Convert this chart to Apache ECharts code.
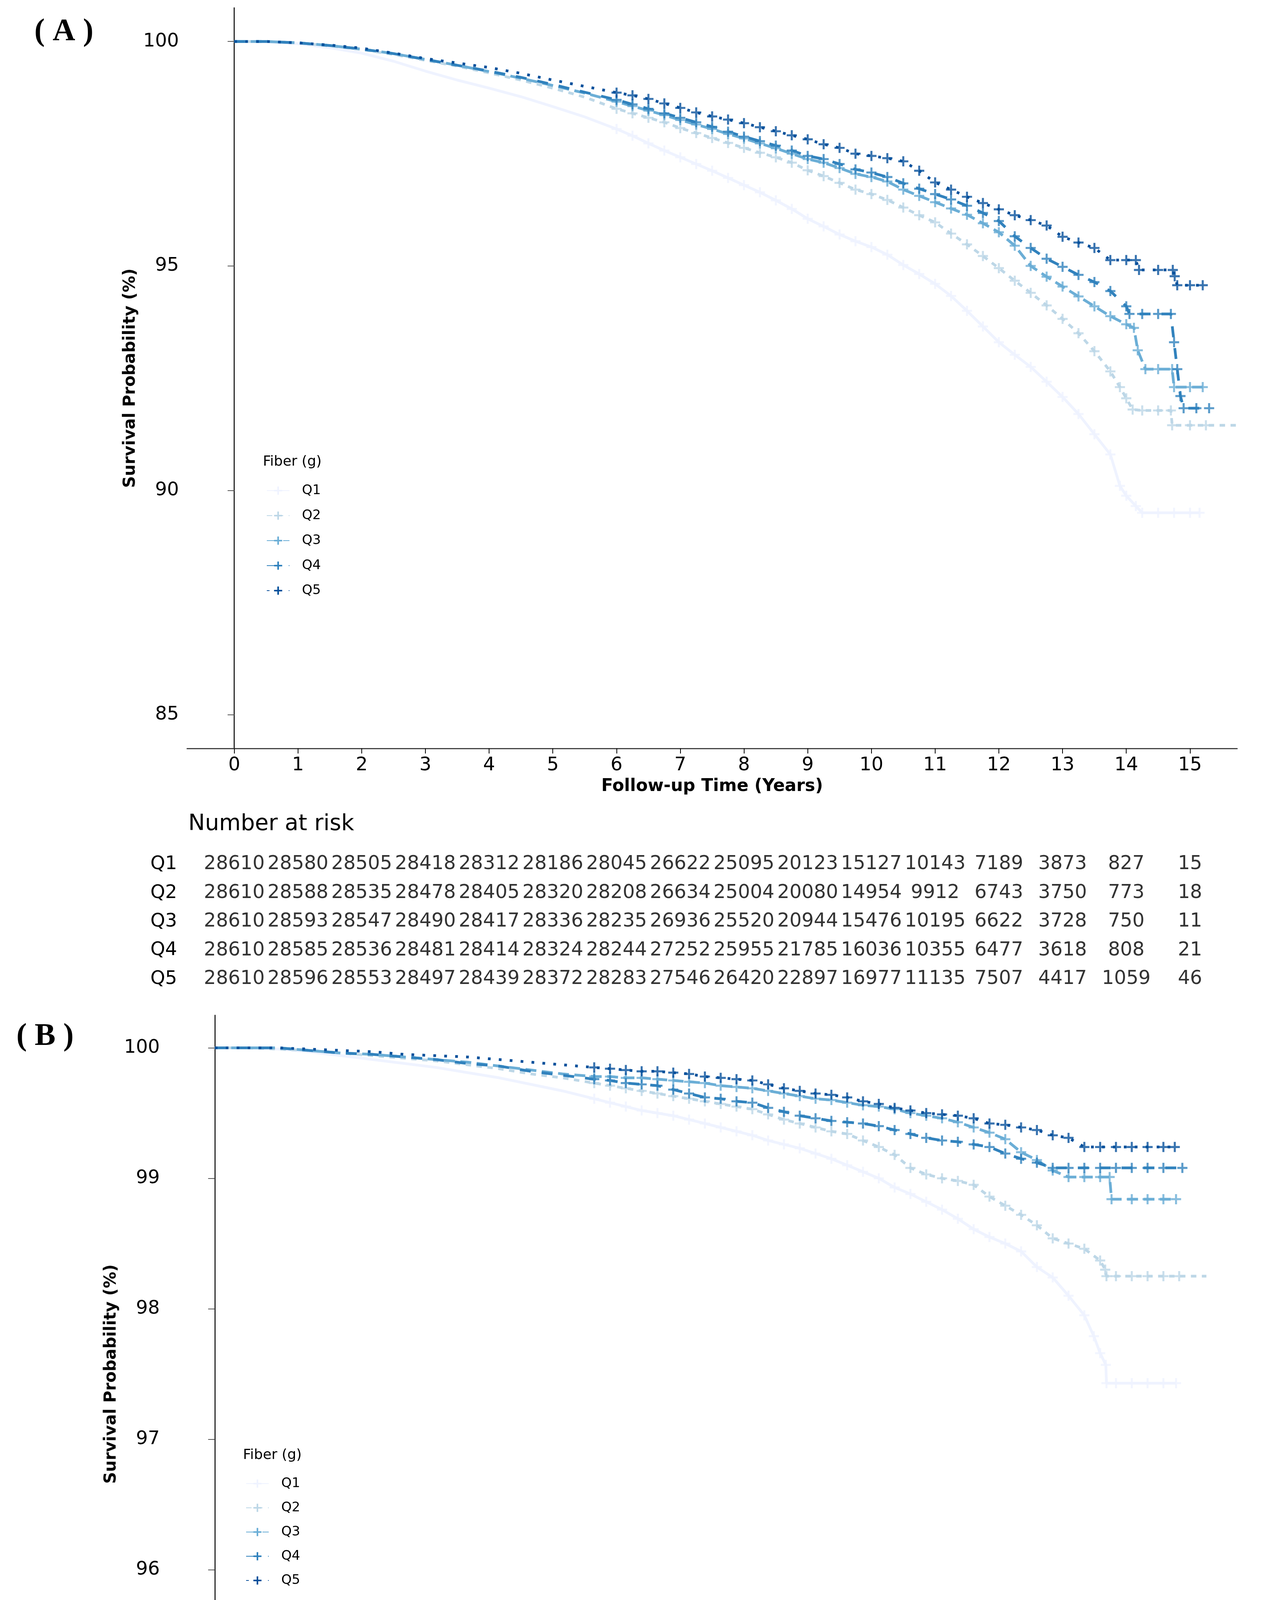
<!DOCTYPE html>
<html><head><meta charset="utf-8">
<script src="https://cdn.jsdelivr.net/npm/echarts@6/dist/echarts.min.js"></script>
<style>html,body{margin:0;padding:0;background:#fff}#c{width:3246px;height:5105px}</style>
</head><body><div id="c"></div><script>
// ---------- data ----------
const GROUPS = ['Q1','Q2','Q3','Q4','Q5'];
const X_TICKS = [0,1,2,3,4,5,6,7,8,9,10,11,12,13,14,15];
const Y_TICKS_A = [85,90,95,100];
const Y_TICKS_B = [95,96,97,98,99,100];
const RISK_TIMES = [0,1,2,3,4,5,6,7,8,9,10,11,12,13,14,15];

const T_BODY = [0,0.5,1,1.5,2,2.5,3,3.5,4,4.5,5,5.5,6,6.25,6.5,6.75,7,7.25,7.5,7.75,8,8.25,8.5,8.75,9,9.25,9.5,9.75,10,10.25,10.5,10.75,11,11.25,11.5,11.75,12,12.25,12.5,12.75,13,13.25,13.5,13.75];

// Panel A survival (%)
const A_Q1 = [100,99.99,99.95,99.86,99.74,99.56,99.34,99.14,98.96,98.77,98.55,98.32,98.05,97.9,97.73,97.57,97.42,97.27,97.12,96.96,96.8,96.64,96.46,96.27,96.05,95.88,95.7,95.55,95.42,95.25,95.02,94.82,94.6,94.33,94.0,93.65,93.3,93.02,92.75,92.42,92.08,91.7,91.25,90.8];
const A_Q1_TT = [13.9,14,14.15,14.25,14.5,14.75,15,15.15];
const A_Q1_TS = [90.1,89.88,89.65,89.5,89.5,89.5,89.5,89.5];
const A_Q2 = [100,100,99.97,99.9,99.82,99.71,99.58,99.45,99.3,99.14,98.96,98.76,98.5,98.4,98.3,98.2,98.07,97.96,97.85,97.74,97.63,97.52,97.42,97.3,97.13,97.0,96.85,96.7,96.6,96.47,96.3,96.13,95.97,95.72,95.48,95.22,94.95,94.67,94.4,94.12,93.82,93.5,93.1,92.65];
const A_Q2_TT = [13.9,14,14.1,14.25,14.5,14.7,14.72,15,15.25,15.72];
const A_Q2_TS = [92.3,92.05,91.8,91.78,91.78,91.78,91.45,91.45,91.45,91.45];
const A_Q3 = [100,100,99.97,99.91,99.83,99.73,99.6,99.47,99.33,99.18,99.02,98.85,98.66,98.56,98.46,98.36,98.25,98.15,98.05,97.94,97.84,97.73,97.62,97.5,97.38,97.3,97.18,97.05,96.98,96.88,96.7,96.56,96.42,96.28,96.14,95.95,95.75,95.45,95.0,94.76,94.54,94.32,94.1,93.88];
const A_Q3_TT = [14,14.12,14.18,14.3,14.5,14.72,14.75,15,15.2];
const A_Q3_TS = [93.7,93.62,93.12,92.7,92.7,92.7,92.3,92.3,92.3];
const A_Q4 = [100,100,99.97,99.91,99.83,99.73,99.6,99.47,99.34,99.2,99.04,98.87,98.7,98.6,98.5,98.4,98.3,98.2,98.1,97.99,97.88,97.78,97.68,97.57,97.45,97.38,97.27,97.15,97.08,96.98,96.84,96.72,96.6,96.48,96.34,96.18,96.0,95.66,95.4,95.16,94.98,94.8,94.64,94.44];
const A_Q4_TT = [14,14.05,14.25,14.5,14.7,14.75,14.8,14.85,14.9,15.1,15.3];
const A_Q4_TS = [94.1,93.93,93.93,93.93,93.93,93.3,92.7,92.1,91.83,91.83,91.83];
const A_Q5 = [100,100,99.97,99.92,99.85,99.74,99.62,99.52,99.42,99.29,99.14,99.0,98.86,98.8,98.72,98.62,98.52,98.42,98.33,98.26,98.18,98.09,98.0,97.91,97.82,97.71,97.63,97.5,97.45,97.4,97.33,97.12,96.86,96.7,96.54,96.4,96.26,96.13,96.02,95.9,95.65,95.52,95.4,95.13];
const A_Q5_TT = [14,14.15,14.2,14.5,14.73,14.76,14.8,15,15.2];
const A_Q5_TS = [95.13,95.13,94.91,94.91,94.91,94.77,94.57,94.57,94.57];

// Panel B survival (%)
const B_Q1 = [100,100,99.99,99.97,99.94,99.91,99.88,99.85,99.81,99.77,99.72,99.67,99.61,99.58,99.55,99.52,99.5,99.48,99.45,99.42,99.39,99.36,99.33,99.29,99.26,99.23,99.19,99.15,99.1,99.05,99.0,98.93,98.88,98.82,98.76,98.69,98.61,98.55,98.5,98.44,98.32,98.24,98.1,97.95];
const B_Q1_TT = [13.9,14,14.09,14.1,14.25,14.5,14.75,15,15.2];
const B_Q1_TS = [97.79,97.66,97.57,97.43,97.43,97.43,97.43,97.43,97.43];
const B_Q2 = [100,100,99.99,99.98,99.96,99.94,99.92,99.9,99.87,99.84,99.8,99.77,99.73,99.71,99.69,99.67,99.65,99.63,99.61,99.59,99.57,99.55,99.53,99.49,99.45,99.42,99.39,99.36,99.34,99.29,99.24,99.18,99.08,99.03,99.0,98.98,98.95,98.86,98.79,98.72,98.64,98.54,98.5,98.46];
const B_Q2_TT = [14,14.08,14.1,14.25,14.5,14.75,15,15.25,15.68];
const B_Q2_TS = [98.37,98.3,98.25,98.25,98.25,98.25,98.25,98.25,98.25];
const B_Q3 = [100,100,100,99.98,99.96,99.95,99.93,99.91,99.89,99.86,99.83,99.8,99.78,99.78,99.77,99.77,99.76,99.75,99.74,99.73,99.71,99.7,99.69,99.67,99.65,99.63,99.61,99.6,99.58,99.56,99.55,99.53,99.5,99.48,99.46,99.43,99.39,99.35,99.3,99.2,99.14,99.06,99.01,99.01];
const B_Q3_TT = [14,14.15,14.18,14.5,14.75,15,15.2];
const B_Q3_TS = [99.01,99.01,98.84,98.84,98.84,98.84,98.84];
const B_Q4 = [100,100,100,99.98,99.96,99.95,99.93,99.91,99.88,99.86,99.82,99.79,99.76,99.75,99.73,99.72,99.71,99.68,99.65,99.62,99.61,99.59,99.58,99.54,99.51,99.48,99.46,99.44,99.43,99.42,99.4,99.37,99.34,99.31,99.29,99.28,99.26,99.24,99.19,99.15,99.12,99.08,99.08,99.08];
const B_Q4_TT = [14,14.25,14.5,14.75,15,15.3];
const B_Q4_TS = [99.08,99.08,99.08,99.08,99.08,99.08];
const B_Q5 = [100,100,100,99.99,99.98,99.97,99.95,99.94,99.93,99.91,99.89,99.87,99.85,99.84,99.83,99.82,99.82,99.81,99.8,99.78,99.77,99.76,99.75,99.72,99.69,99.67,99.65,99.64,99.62,99.59,99.57,99.54,99.52,99.5,99.49,99.48,99.46,99.42,99.41,99.39,99.37,99.33,99.31,99.24];
const B_Q5_TT = [14,14.25,14.5,14.75,15,15.18];
const B_Q5_TS = [99.24,99.24,99.24,99.24,99.24,99.24];

// Number at risk
const RISK_A_Q1 = [28610,28580,28505,28418,28312,28186,28045,26622,25095,20123,15127,10143,7189,3873,827,15];
const RISK_A_Q2 = [28610,28588,28535,28478,28405,28320,28208,26634,25004,20080,14954,9912,6743,3750,773,18];
const RISK_A_Q3 = [28610,28593,28547,28490,28417,28336,28235,26936,25520,20944,15476,10195,6622,3728,750,11];
const RISK_A_Q4 = [28610,28585,28536,28481,28414,28324,28244,27252,25955,21785,16036,10355,6477,3618,808,21];
const RISK_A_Q5 = [28610,28596,28553,28497,28439,28372,28283,27546,26420,22897,16977,11135,7507,4417,1059,46];
const RISK_B_Q1 = [28610,28607,28592,28574,28555,28529,28497,27188,25767,20789,15735,10639,7630,4173,876,15];
const RISK_B_Q2 = [28610,28606,28596,28588,28570,28558,28534,27020,25465,20560,15422,10301,7078,4005,816,19];
const RISK_B_Q3 = [28610,28608,28602,28591,28582,28566,28554,27327,25991,21417,15900,10553,6924,3962,782,11];
const RISK_B_Q4 = [28610,28606,28596,28587,28575,28558,28545,27616,26393,22245,16435,10670,6733,3800,833,22];
const RISK_B_Q5 = [28610,28607,28601,28596,28589,28577,28564,27903,26835,23342,17350,11449,7769,4591,1083,47];

// ---------- styling ----------
const COLORS = ['#EFF3FF','#BDD7E7','#6BAED6','#3182BD','#08519C'];
const DASHES = ['solid',[14,14],[28,14],[28,28],[7,21]];
const PLUS = 'path://M0,4 H10 V6 H0 Z M4,0 H6 V10 H4 Z';
const FONT = 'DejaVu Sans';
const CENSOR_FROM = 6, CENSOR_TO = 15.4;

function curve(body, tt, ts) {
  return T_BODY.map((t, i) => [t, body[i]]).concat(tt.map((t, i) => [t, ts[i]]));
}
const curvesA = [curve(A_Q1,A_Q1_TT,A_Q1_TS), curve(A_Q2,A_Q2_TT,A_Q2_TS), curve(A_Q3,A_Q3_TT,A_Q3_TS), curve(A_Q4,A_Q4_TT,A_Q4_TS), curve(A_Q5,A_Q5_TT,A_Q5_TS)];
const curvesB = [curve(B_Q1,B_Q1_TT,B_Q1_TS), curve(B_Q2,B_Q2_TT,B_Q2_TS), curve(B_Q3,B_Q3_TT,B_Q3_TS), curve(B_Q4,B_Q4_TT,B_Q4_TS), curve(B_Q5,B_Q5_TT,B_Q5_TS)];
const riskA = [RISK_A_Q1,RISK_A_Q2,RISK_A_Q3,RISK_A_Q4,RISK_A_Q5];
const riskB = [RISK_B_Q1,RISK_B_Q2,RISK_B_Q3,RISK_B_Q4,RISK_B_Q5];

const series = [];
function addPanel(curves, axisIdx) {
  curves.forEach((c, i) => {
    series.push({
      type: 'line', name: GROUPS[i], xAxisIndex: axisIdx, yAxisIndex: axisIdx,
      data: c, showSymbol: false, symbol: PLUS, symbolSize: 26, silent: true,
      lineStyle: { color: COLORS[i], width: 7, type: DASHES[i] },
      itemStyle: { color: COLORS[i] }, z: 2
    });
  });
}
function addCensor(curves, axisIdx) {
  curves.forEach((c, i) => {
    series.push({
      type: 'scatter', name: GROUPS[i], xAxisIndex: axisIdx, yAxisIndex: axisIdx,
      data: c.filter(p => p[0] >= CENSOR_FROM && p[0] <= CENSOR_TO),
      symbol: PLUS, symbolSize: 26, silent: true,
      itemStyle: { color: COLORS[i] }, z: 3
    });
  });
}
function addRisk(rows, axisIdx) {
  rows.forEach((vals, i) => {
    series.push({
      type: 'scatter', xAxisIndex: axisIdx, yAxisIndex: axisIdx, silent: true,
      data: RISK_TIMES.map((t, k) => [t, GROUPS[i], vals[k]]),
      symbolSize: 1, itemStyle: { color: 'rgba(0,0,0,0)' },
      label: { show: true, position: 'inside', formatter: p => String(p.value[2]),
               fontSize: 49, fontFamily: FONT, color: '#000' }
    });
  });
}
addPanel(curvesA, 0); addPanel(curvesB, 1);
addCensor(curvesA, 0); addCensor(curvesB, 1);
addRisk(riskA, 2); addRisk(riskB, 3);

function plotX(grid) {
  return {
    type: 'value', gridIndex: grid, min: -0.74, max: 15.74,
    name: 'Follow-up Time (Years)', nameLocation: 'middle', nameGap: 76,
    nameTextStyle: { fontSize: 44, fontWeight: 'bold', fontFamily: FONT, color: '#000' },
    axisLine: { show: true, lineStyle: { color: '#444', width: 3 } },
    axisTick: { show: true, customValues: X_TICKS, length: 13, lineStyle: { color: '#000', width: 2 } },
    axisLabel: { customValues: X_TICKS, fontSize: 48, fontFamily: FONT, color: '#000', margin: 20 },
    splitLine: { show: false }
  };
}
function plotY(grid, min, max, ticks) {
  return {
    type: 'value', gridIndex: grid, min: min, max: max,
    name: 'Survival Probability (%)', nameLocation: 'middle', nameGap: 120,
    nameTextStyle: { fontSize: 42, fontWeight: 'bold', fontFamily: FONT, color: '#000' },
    axisLine: { show: true, lineStyle: { color: '#000', width: 2.5 } },
    axisTick: { show: true, customValues: ticks, length: 17, lineStyle: { color: '#555', width: 2 } },
    axisLabel: { customValues: ticks, fontSize: 48, fontFamily: FONT, color: '#000', margin: 21 },
    splitLine: { show: false }
  };
}
function tableX(grid) {
  return { type: 'value', gridIndex: grid, min: -0.74, max: 15.74, show: false };
}
function tableY(grid, margin) {
  return {
    type: 'category', gridIndex: grid, data: GROUPS, inverse: true,
    axisLine: { show: false }, axisTick: { show: false }, splitLine: { show: false },
    axisLabel: { align: 'left', margin: margin, fontSize: 48, fontFamily: FONT, color: '#000' }
  };
}
function legendAt(left, top, gap) {
  return {
    orient: 'vertical', left: left, top: top, data: GROUPS, selectedMode: false,
    itemWidth: 58, itemHeight: 26, itemGap: gap,
    textStyle: { fontSize: 34, lineHeight: 26, fontFamily: FONT, color: '#000', padding: [0,0,0,27] }
  };
}
function txt(x, y, text, font) {
  return { type: 'text', x: x, y: y, silent: true,
    style: { text: text, font: font, fill: '#000', align: 'left', verticalAlign: 'middle' } };
}

const chart = echarts.init(document.getElementById('c'), null, { renderer: 'canvas' });
chart.setOption({
  backgroundColor: '#fff',
  animation: false,
  grid: [
    { left: 479, top: 20, width: 2688, height: 1896 },
    { left: 430, top: 2599, width: 2668, height: 1837 },
    { left: 479, top: 2176, width: 2688, height: 367 },
    { left: 430, top: 4689, width: 2668, height: 350 }
  ],
  xAxis: [plotX(0), plotX(1), tableX(2), tableX(3)],
  yAxis: [plotY(0, 84.25, 100.75, Y_TICKS_A), plotY(1, 94.75, 100.25, Y_TICKS_B), tableY(2, 94), tableY(3, 96)],
  legend: [legendAt(677, 1234, 30), legendAt(624, 3776, 28)],
  graphic: [
    txt(88, 82, '( A )', 'bold 80px "Liberation Serif"'),
    txt(42, 2654, '( B )', 'bold 80px "Liberation Serif"'),
    txt(482, 2110, 'Number at risk', '57px "DejaVu Sans"'),
    txt(430, 4626, 'Number at risk', '57px "DejaVu Sans"'),
    txt(673, 1183, 'Fiber (g)', '36px "DejaVu Sans"'),
    txt(622, 3726, 'Fiber (g)', '36px "DejaVu Sans"')
  ],
  series: series
});
</script></body></html>
